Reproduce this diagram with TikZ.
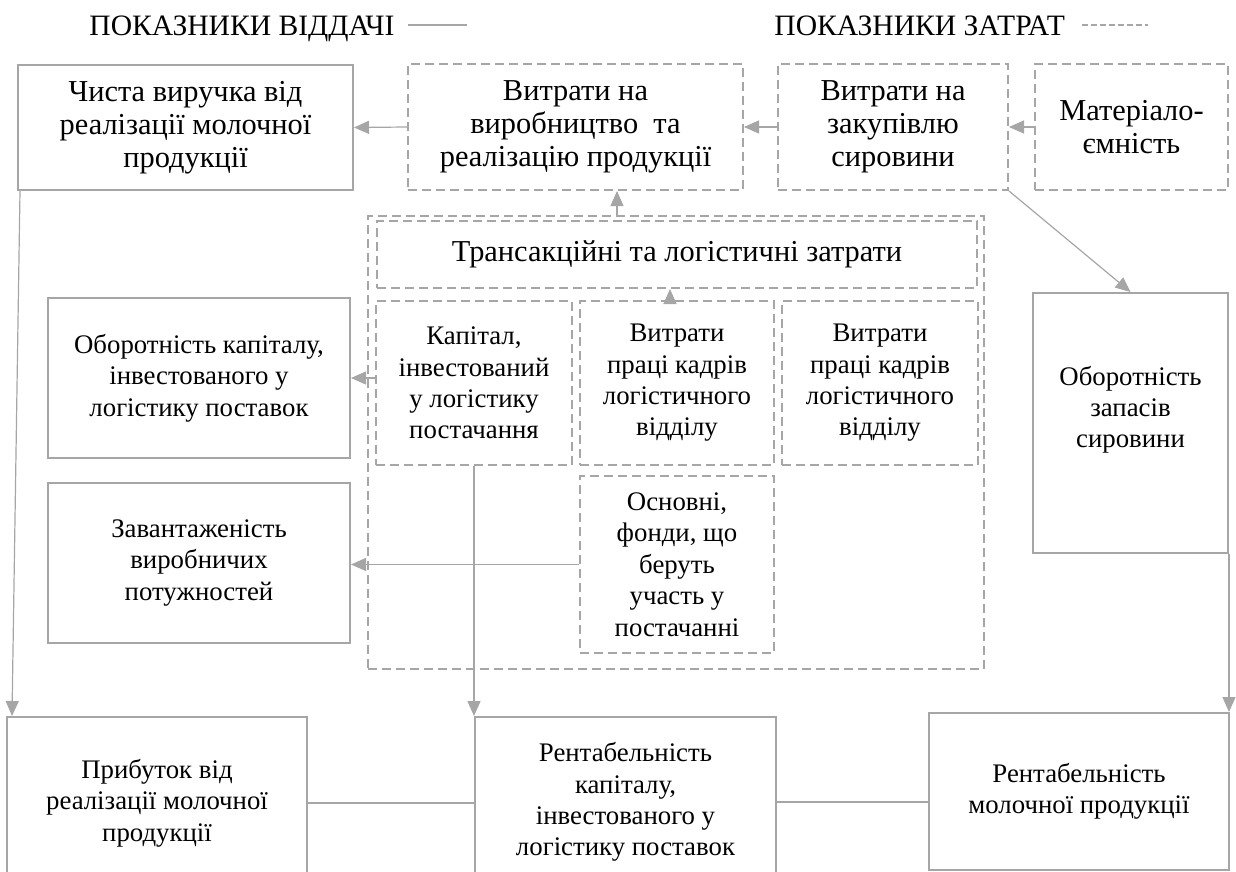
\documentclass[tikz,border=0pt]{standalone}
\usepackage{fontspec}
\setmainfont{Liberation Serif}
\usetikzlibrary{arrows.meta}
\definecolor{linegray}{HTML}{A6A6A6}

\begin{document}
\begin{tikzpicture}[x=0.5pt,y=-0.5pt,
    every node/.style={font=\fontsize{13.4}{15.7}\selectfont, align=center},
    bigtext/.style={font=\fontsize{15.2}{16.6}\selectfont},
    legendtext/.style={font=\fontsize{14.8}{16.6}\selectfont, anchor=base west, inner sep=0pt},
    boxsize/.style 2 args={minimum width=#1*0.5pt, minimum height=#2*0.5pt},
    solidbox/.style={draw=linegray, line width=1pt, inner sep=0pt},
    dashbox/.style={draw=linegray, line width=1pt, inner sep=0pt, dash pattern=on 4.5pt off 2.5pt},
    link/.style={draw=linegray, line width=0.6pt, -{Triangle[length=7.5pt,width=6.5pt]}},
    plainlink/.style={draw=linegray, line width=0.6pt}]
    \useasboundingbox (0,0) rectangle (1236,872);

    % legend
    \node[legendtext] (legout) at (89,36) {ПОКАЗНИКИ ВІДДАЧІ};
    \node[legendtext] (legin) at (774,36) {ПОКАЗНИКИ ЗАТРАТ};
    \coordinate (legoutend) at (467,25);
    \coordinate (leginend) at (1148,25);
    \draw[linegray, line width=1pt] (legout.east |- legoutend) ++(6.5pt,0pt) -- (legoutend);
    \draw[linegray, line width=0.6pt, dash pattern=on 3pt off 1.5pt] (legin.east |- leginend) ++(8.5pt,0pt) -- (leginend);

    \node[solidbox, bigtext, boxsize={335}{125}] (revenue) at (185.5,127.5) {Чиста виручка від\\реалізації молочної\\продукції};
    \node[dashbox, bigtext, boxsize={335}{126}] (prod) at (575.5,127) {Витрати на\\виробництво~ та\\реалізацію продукції};
    \node[dashbox, bigtext, boxsize={230}{126}] (raw) at (893,127) {Витрати на\\закупівлю\\сировини};
    \node[dashbox, bigtext, boxsize={193}{126}] (matint) at (1131.5,127) {Матеріало-\\ємність};

    \node[dashbox, boxsize={616}{453}] (group) at (676,442.5) {};
    \node[dashbox, bigtext, boxsize={600}{67}] (title) at (677,254.5) {Трансакційні та логістичні затрати};
    \node[dashbox, boxsize={196}{164}] (capital) at (474,383) {Капітал,\\інвестований\\у логістику\\постачання};
    \node[dashbox, boxsize={194}{164}] (laborA) at (677,383) {Витрати\\праці кадрів\\логістичного\\відділу};
    \node[dashbox, boxsize={196}{164}] (laborB) at (880,383) {Витрати\\праці кадрів\\логістичного\\відділу};
    \node[dashbox, boxsize={194}{177}] (fixed) at (677,564.5) {Основні,\\фонди, що\\беруть\\участь у\\постачанні};

    \node[solidbox, boxsize={302}{160}] (turnover) at (199,378) {Оборотність капіталу,\\інвестованого у\\логістику поставок};
    \node[solidbox, boxsize={302}{160}] (load) at (199,563) {Завантаженість\\виробничих\\потужностей};
    \node[solidbox, boxsize={195}{260}, text depth=16pt] (stock) at (1130.5,423) {Оборотність\\запасів\\сировини};

    \node[solidbox, boxsize={300}{172}] (profit) at (157,803) {Прибуток від\\реалізації молочної\\продукції};
    \node[solidbox, boxsize={301}{170}] (rentcap) at (625.5,802) {Рентабельність\\капіталу,\\інвестованого у\\логістику поставок};
    \node[solidbox, boxsize={300}{157}] (rentprod) at (1079,791.5) {Рентабельність\\молочної продукції};

    \coordinate (upA) at (617,0);
    \coordinate (upB) at (670,0);
    \draw[link] (prod.west) -- (revenue.east);
    \draw[link] (raw.west) -- (prod.east);
    \draw[link] (matint.west) -- (raw.east);
    \draw[link] (group.north -| upA) -- (prod.south -| upA);
    \draw[link] (laborA.north -| upB) -- (title.south -| upB);
    \draw[link] (capital.west |- turnover.east) -- (turnover.east);
    \draw[link] (fixed.west) -- (fixed.west -| load.east);
    \draw[link] (raw.south east) -- (stock.north);
    \draw[link] (stock.south east) -- (stock.south east |- rentprod.north);
    \draw[link] ([xshift=1.5pt]revenue.south west) -- ([xshift=3pt]profit.north west);
    \draw[link] (capital.south) -- (capital.south |- rentcap.north);
    \draw[plainlink] (profit.east) -- (profit.east -| rentcap.west);
    \draw[plainlink] (rentcap.east) -- (rentcap.east -| rentprod.west);
\end{tikzpicture}
\end{document}
